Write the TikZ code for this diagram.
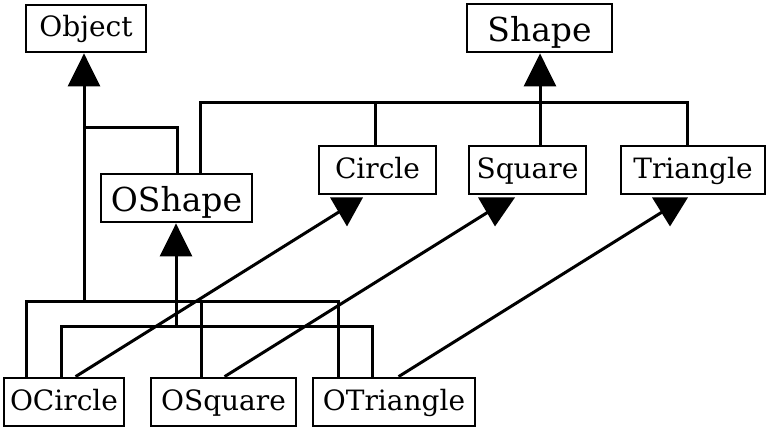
\documentclass[tikz,border=0pt]{standalone}
\usepackage{fontspec}
\setmainfont{DejaVu Serif}
\usetikzlibrary{arrows.meta,calc}
\begin{document}
\begin{tikzpicture}[x=1pt,y=-1pt,line width=3pt,
  cls/.style={draw, line width=2.8pt, inner sep=0pt, minimum height=48pt, align=center,
    font=\fontsize{28}{33}\selectfont, text height=20.5pt, text depth=4.5pt},
  bigcls/.style={cls, font=\fontsize{33}{39}\selectfont, text height=29pt, text depth=2pt},
  inh/.style={-{Triangle[length=33pt,width=32pt]}},
  head/.style={fill=black, draw=none}]
\useasboundingbox (0,0) rectangle (767,429);
% classes
\node[cls, minimum width=120pt, minimum height=47pt] (Object) at (86,28.5) {Object};
\node[bigcls, minimum width=145pt] (Shape) at (539.5,28) {Shape};
\node[cls, minimum width=117pt] (Circle) at (377.5,170) {Circle};
\node[cls, minimum width=117pt] (Square) at (527.5,170) {Square};
\node[cls, minimum width=144pt] (Triangle) at (693,170) {Triangle};
\node[bigcls, minimum width=151pt] (OShape) at (176.5,198) {OShape};
\node[cls, minimum width=120pt] (OCircle) at (64,402) {OCircle};
\node[cls, minimum width=145pt] (OSquare) at (223.5,402) {OSquare};
\node[cls, minimum width=162pt] (OTriangle) at (394,402) {OTriangle};
% junction points
\coordinate (b1L) at (26,301);
\coordinate (b1M) at (84,301);
\coordinate (b1S) at (201,301);
\coordinate (b1R) at (338,301);
\coordinate (o1) at (84,127);
\coordinate (o2) at (177,127);
\coordinate (s1) at (200,102);
\coordinate (s2) at (375,102);
\coordinate (s3) at (540,102);
\coordinate (s4) at (687,102);
\coordinate (t1) at (61,326);
\coordinate (tm) at (176,326);
\coordinate (t2) at (372,326);
% Object hierarchy
\draw (b1L |- OCircle.north) -- (b1L) -- (b1R) -- (b1R |- OTriangle.north);
\draw (b1S) -- (b1S |- OSquare.north);
\draw[inh] (b1M) -- (b1M |- Object.south);
\draw (o1) -- (o2) -- (o2 |- OShape.north);
% Shape hierarchy
\draw (s1 |- OShape.north) -- (s1) -- (s4) -- (s4 |- Triangle.north);
\draw (s2) -- (s2 |- Circle.north);
\draw[inh] (s3 |- Square.north) -- (s3 |- Shape.south);
% OShape hierarchy
\draw (t1 |- OCircle.north) -- (t1) -- (t2) -- (t2 |- OTriangle.north);
\draw[inh] (tm) -- (tm |- OShape.south);
% diagonal links with heads
\coordinate (hc) at ($(Circle.south)+(-30.8,11.7)$);
\coordinate (hs) at ($(Square.south)+(-31.5,11.7)$);
\coordinate (ht) at ($(Triangle.south)+(-23,11.7)$);
\draw ($(OCircle.north west)+(73,0)$) -- (hc);
\draw ($(OSquare.north west)+(75,0)$) -- (hs);
\draw ($(OTriangle.north west)+(87,0)$) -- (ht);
\fill[head] ($(Circle.south)+(-47.5,2)$) -- ($(Circle.south)+(-14.5,2)$) -- ($(Circle.south)+(-30.5,31)$) -- cycle;
\fill[head] ($(Square.south)+(-49.5,2)$) -- ($(Square.south)+(-12.5,2)$) -- ($(Square.south)+(-32.5,31)$) -- cycle;
\fill[head] ($(Triangle.south)+(-41,2)$) -- ($(Triangle.south)+(-5,2)$) -- ($(Triangle.south)+(-23,31)$) -- cycle;
\end{tikzpicture}
\end{document}
